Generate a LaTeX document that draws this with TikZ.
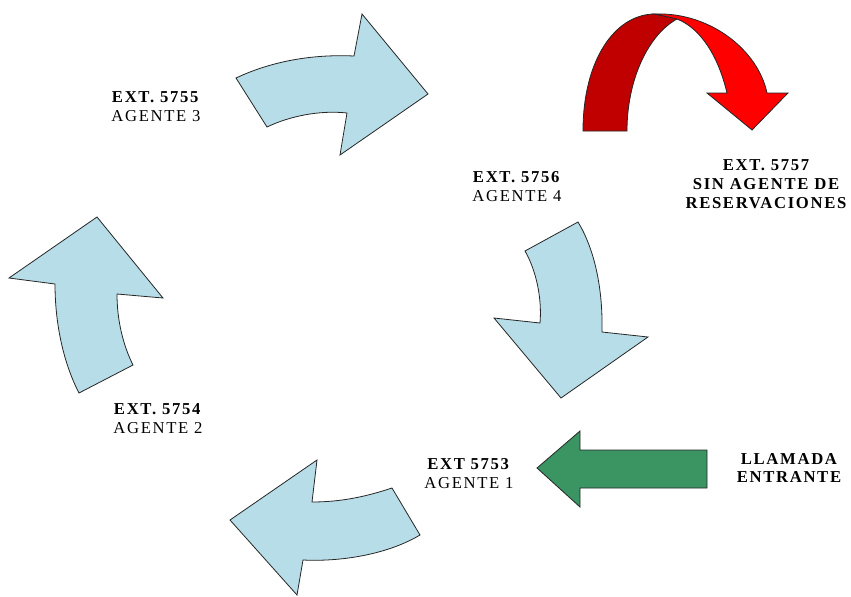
\documentclass[tikz,border=0pt]{standalone}
\usepackage{fontspec}
\setmainfont{Liberation Serif}[LetterSpace=10]
\definecolor{aqua}{HTML}{B7DEE8}
\definecolor{callgreen}{HTML}{3A9563}
\definecolor{backred}{HTML}{C00000}
\definecolor{frontred}{HTML}{FF0000}
\tikzset{
  blockarrow/.style={draw=black!85,line width=0.6pt,line join=miter},
  lbl/.style={align=center,inner sep=0pt,font=\fontsize{12.5}{14.2}\selectfont}
}
\begin{document}
\begin{tikzpicture}[x=0.75pt,y=-0.75pt]
        \useasboundingbox (0,0) rectangle (851,597);
        % curved arrows of the ring
        \draw[blockarrow,fill=aqua] (236,78) .. controls (270,62) and (310,54) .. (354,56)
          -- (362,14) -- (428,94) -- (340,155) -- (347,113)
          .. controls (320,110) and (290,116) .. (267,127) -- cycle;
        \draw[blockarrow,fill=aqua] (525,251) -- (578,222)
          .. controls (595,250) and (603,290) .. (602,332)
          -- (648,337) -- (561,398) -- (494,318) -- (540,323)
          .. controls (542,300) and (537,272) .. (525,251) -- cycle;
        \draw[blockarrow,fill=aqua] (392,488) .. controls (365,497) and (340,502) .. (312,502)
          -- (317,460) -- (230,520) -- (297,595) -- (303,560)
          .. controls (345,562) and (390,553) .. (420,535) -- cycle;
        \draw[blockarrow,fill=aqua] (79,393) .. controls (62,360) and (55,320) .. (55,284)
          -- (9,278) -- (97,217) -- (163,298) -- (117,294)
          .. controls (117,320) and (123,345) .. (133,365) -- cycle;
        % incoming call
        \draw[blockarrow,fill=callgreen] (537,468) -- (580,431) -- (580,450) -- (707,450)
          -- (707,488) -- (580,488) -- (580,507) -- cycle;
        % jump over to 5757
        \draw[blockarrow,fill=backred] (583,131) .. controls (583,60) and (615,14) .. (655,14)
          -- (677,19) .. controls (648,35) and (627,80) .. (627,131) -- cycle;
        \draw[blockarrow,fill=frontred] (655,14) .. controls (710,12) and (758,50) .. (767,93)
          -- (788,93) -- (752,130) -- (707,93) -- (727,93)
          .. controls (718,55) and (700,28) .. (677,19) -- cycle;
        % labels
        \draw (156,107) node[lbl](ag3){\textbf{EXT. 5755}\\AGENTE 3};
        \draw (517,187) node[lbl](ag4){\textbf{EXT. 5756}\\AGENTE 4};
        \draw (766,184) node[lbl,font=\fontsize{12.5}{14.2}\selectfont\bfseries](sin){EXT. 5757\\SIN AGENTE DE\\RESERVACIONES};
        \draw (158,419) node[lbl](ag2){\textbf{EXT. 5754}\\AGENTE 2};
        \draw (469,474) node[lbl](ag1){\textbf{EXT 5753}\\AGENTE 1};
        \draw (789,468) node[lbl,font=\fontsize{12.5}{14.2}\selectfont\bfseries](call){LLAMADA\\ENTRANTE};
\end{tikzpicture}
\end{document}
